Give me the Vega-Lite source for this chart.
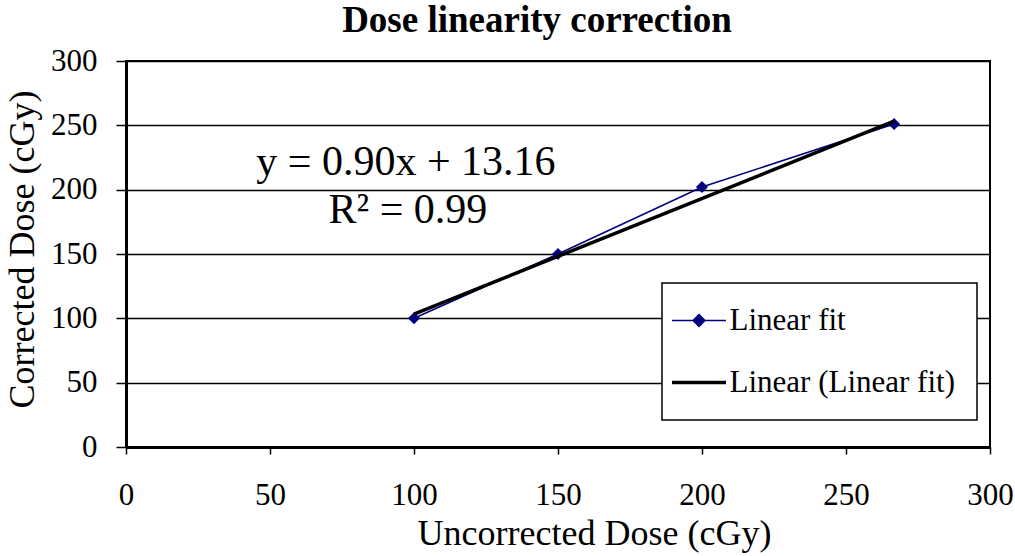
{
  "$schema": "https://vega.github.io/schema/vega-lite/v6.json",
  "width": 864,
  "height": 386,
  "autosize": {"type": "none"},
  "padding": {"left": 126, "top": 61, "right": 25, "bottom": 109},
  "background": "white",
  "config": {
    "font": "Liberation Serif",
    "view": {"stroke": "black", "strokeWidth": 2},
    "axisX": {
      "grid": false,
      "domainColor": "black",
      "domainWidth": 3,
      "tickColor": "black",
      "tickSize": 7,
      "tickWidth": 1.5,
      "labelFont": "Liberation Serif",
      "labelFontSize": 31,
      "labelColor": "black",
      "labelBaseline": "alphabetic",
      "labelPadding": 50,
      "labelFlush": false,
      "titleFont": "Liberation Serif",
      "titleFontSize": 36,
      "titleFontWeight": "normal",
      "titleColor": "black",
      "titleX": 468,
      "titleY": 97,
      "titleBaseline": "alphabetic",
      "titleAnchor": "middle"
    },
    "axisY": {
      "grid": true,
      "gridColor": "black",
      "gridWidth": 1.3,
      "gridOpacity": 1,
      "domainColor": "black",
      "domainWidth": 3,
      "tickColor": "black",
      "tickSize": 10,
      "tickWidth": 1.5,
      "labelFont": "Liberation Serif",
      "labelFontSize": 31,
      "labelColor": "black",
      "labelPadding": 19,
      "labelFlush": false,
      "titleFont": "Liberation Serif",
      "titleFontSize": 36,
      "titleFontWeight": "normal",
      "titleColor": "black",
      "titleAngle": -90,
      "titleX": -93,
      "titleY": 188,
      "titleBaseline": "alphabetic",
      "titleAnchor": "middle"
    }
  },
  "title": {
    "text": "Dose linearity correction",
    "font": "Liberation Serif",
    "fontSize": 37,
    "fontWeight": "bold",
    "color": "black",
    "anchor": "middle",
    "dx": -21,
    "offset": 5
  },
  "datasets": {
    "points": [
      {"x": 100, "y": 100, "series": "Linear fit"},
      {"x": 150, "y": 150, "series": "Linear fit"},
      {"x": 200, "y": 202, "series": "Linear fit"},
      {"x": 266.7, "y": 251, "series": "Linear fit"}
    ],
    "trend": [
      {"x": 100, "y": 103.2, "series": "Linear (Linear fit)"},
      {"x": 266.7, "y": 253.2, "series": "Linear (Linear fit)"}
    ],
    "notes": [
      {"label": "y = 0.90x + 13.16"}
    ]
  },
  "layer": [
    {
      "data": {"name": "points"},
      "mark": {"type": "line", "strokeWidth": 1.6},
      "encoding": {
        "x": {
          "field": "x",
          "type": "quantitative",
          "scale": {"domain": [0, 300], "nice": false, "zero": false},
          "axis": {"title": "Uncorrected Dose (cGy)", "values": [0, 50, 100, 150, 200, 250, 300]}
        },
        "y": {
          "field": "y",
          "type": "quantitative",
          "scale": {"domain": [0, 300], "nice": false, "zero": false},
          "axis": {"title": "Corrected Dose (cGy)", "values": [0, 50, 100, 150, 200, 250, 300]}
        },
        "color": {
          "field": "series",
          "type": "nominal",
          "scale": {"domain": ["Linear fit", "Linear (Linear fit)"], "range": ["#000080", "#000000"]},
          "legend": {
            "title": null,
            "orient": "none",
            "legendX": 536,
            "legendY": 222,
            "padding": 22,
            "fillColor": "white",
            "strokeColor": "black",
            "labelFont": "Liberation Serif",
            "labelFontSize": 31,
            "labelColor": "black",
            "labelLimit": 400,
            "labelOffset": 15,
            "symbolOffset": -0.5,
            "symbolSize": 2916,
            "rowPadding": 30,
            "encode": {
              "legend": {
                "update": {"strokeWidth": {"value": 1.5}}
              },
              "symbols": {
                "update": {
                  "shape": {"signal": "datum.value === 'Linear fit' ? 'M-1,0L1,0M0,-0.22L0.22,0L0,0.22L-0.22,0Z' : 'M-1,0L1,0'"},
                  "fill": {"signal": "datum.value === 'Linear fit' ? '#000080' : 'transparent'"},
                  "strokeWidth": {"signal": "datum.value === 'Linear fit' ? 1.5 : 3.5"}
                }
              }
            }
          }
        }
      }
    },
    {
      "data": {"name": "points"},
      "mark": {"type": "point", "shape": "diamond", "filled": true, "size": 144, "color": "#000080", "opacity": 1},
      "encoding": {
        "x": {"field": "x", "type": "quantitative"},
        "y": {"field": "y", "type": "quantitative"}
      }
    },
    {
      "data": {"name": "trend"},
      "mark": {"type": "line", "strokeWidth": 3.5},
      "encoding": {
        "x": {"field": "x", "type": "quantitative"},
        "y": {"field": "y", "type": "quantitative"},
        "color": {"field": "series", "type": "nominal"}
      }
    },
    {
      "data": {"name": "notes"},
      "mark": {"type": "text", "fontSize": 42, "align": "center", "baseline": "alphabetic", "color": "black", "font": "Liberation Serif"},
      "encoding": {
        "x": {"datum": 97.2, "type": "quantitative"},
        "y": {"datum": 211.4, "type": "quantitative"},
        "text": {"value": "y = 0.90x + 13.16"}
      }
    },
    {
      "data": {"name": "notes"},
      "mark": {"type": "text", "fontSize": 42, "align": "center", "baseline": "alphabetic", "color": "black", "font": "Liberation Serif"},
      "encoding": {
        "x": {"datum": 97.9, "type": "quantitative"},
        "y": {"datum": 174.1, "type": "quantitative"},
        "text": {"value": "R² = 0.99"}
      }
    }
  ]
}
